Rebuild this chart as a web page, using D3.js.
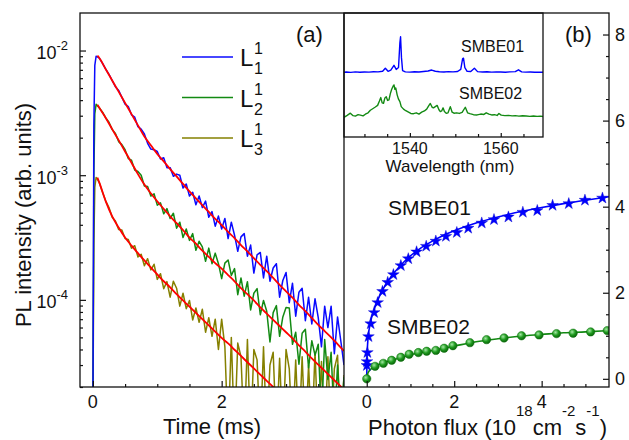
<!DOCTYPE html>
<html>
<head>
<meta charset="utf-8">
<script src="https://cdn.jsdelivr.net/npm/d3@7"></script>
<style>
  html, body { margin: 0; padding: 0; background: #fff; }
  svg { display: block; font-family: "Liberation Sans", Arial, Helvetica, sans-serif; }
</style>
</head>
<body>
<svg id="chart" width="629" height="440"></svg>
<script>
// ---------------- panel (a): PL decay, time in ms ----------------
const timeMs = [0, 0.015, 0.03, 0.05, 0.07,
  0.10, 0.15, 0.20, 0.25, 0.30, 0.35, 0.40, 0.45, 0.50, 0.55,
  0.60, 0.65, 0.70, 0.75, 0.80, 0.85, 0.90, 0.95, 1.00, 1.05,
  1.10, 1.15, 1.20, 1.25, 1.30, 1.35, 1.40, 1.45, 1.50, 1.55,
  1.60, 1.65, 1.70, 1.75, 1.80, 1.85, 1.90, 1.95, 2.00, 2.05,
  2.10, 2.15, 2.20, 2.25, 2.30, 2.35, 2.40, 2.45, 2.50, 2.55,
  2.60, 2.65, 2.70, 2.75, 2.80, 2.85, 2.90, 2.95, 3.00, 3.05,
  3.10, 3.15, 3.20, 3.25, 3.30, 3.35, 3.40, 3.45, 3.50, 3.55,
  3.60, 3.65, 3.70, 3.75, 3.80, 3.85, 3.90];

const plL1 = [1.0e-5, 2.5e-3, 7.6e-3, 9.0e-3, 8.9e-3,
  8.7e-3, 7.9e-3, 7.1e-3, 6.45e-3, 5.75e-3, 5.13e-3, 4.79e-3, 4.22e-3, 3.72e-3, 3.55e-3,
  3.05e-3, 2.92e-3, 2.45e-3, 2.34e-3, 2.14e-3, 1.80e-3, 1.62e-3, 1.60e-3, 1.55e-3, 1.35e-3,
  1.38e-3, 1.15e-3, 1.15e-3, 9.8e-4, 1.02e-3, 1.0e-3, 7.9e-4, 8.5e-4, 6.8e-4, 7.3e-4,
  5.8e-4, 6.8e-4, 5.5e-4, 6.2e-4, 4.6e-4, 5.1e-4, 3.9e-4, 4.7e-4, 3.7e-4, 4.5e-4,
  3.1e-4, 4.2e-4, 3.3e-4, 2.45e-4, 3.2e-4, 3.4e-4, 2.24e-4, 2.75e-4, 1.64e-4, 2.3e-4,
  2.4e-4, 1.5e-4, 2.24e-4, 1.41e-4, 1.8e-4, 1.95e-4, 1.05e-4, 1.43e-4, 1.66e-4, 9.5e-5,
  1.36e-4, 7.4e-5, 1.15e-4, 1.24e-4, 6.8e-5, 1.05e-4, 6.4e-5, 1.02e-4, 7.2e-5, 4.2e-5,
  8.9e-5, 6.0e-5, 8.9e-5, 3.7e-5, 7.3e-5, 4.7e-5, 3.0e-5];

const plL2 = [1.0e-5, 1.0e-3, 3.1e-3, 3.7e-3, 3.6e-3,
  3.47e-3, 3.2e-3, 2.88e-3, 2.66e-3, 2.32e-3, 2.16e-3, 1.86e-3, 1.76e-3, 1.6e-3, 1.36e-3,
  1.32e-3, 1.1e-3, 1.07e-3, 1.0e-3, 8.2e-4, 8.1e-4, 6.8e-4, 7.1e-4, 5.75e-4, 6.0e-4,
  4.9e-4, 5.4e-4, 4.5e-4, 4.95e-4, 3.76e-4, 4.2e-4, 3.16e-4, 3.7e-4, 3.0e-4, 3.4e-4,
  2.5e-4, 2.95e-4, 2.66e-4, 2.04e-4, 2.6e-4, 1.95e-4, 2.37e-4, 1.95e-4, 1.48e-4, 1.97e-4,
  2.09e-4, 1.57e-4, 1.78e-4, 1.1e-4, 1.5e-4, 1.07e-4, 1.4e-4, 8.3e-5, 1.13e-4, 1.23e-4,
  7.6e-5, 9.9e-5, 8.1e-5, 4.6e-5, 7.9e-5, 9.0e-5, 5.1e-5, 7.3e-5, 8.7e-5, 8.6e-5,
  4.4e-5, 5.5e-5, 3.05e-5, 5.4e-5, 5.8e-5, 2.85e-5, 4.7e-5, 3.6e-5, 4.4e-5, 1.1e-5,
  4.8e-5, 2.3e-5, 3.8e-5, 1.0e-5, 3.0e-5, 1.0e-5, 2.4e-5];

const plL3 = [1.0e-5, 2.8e-4, 8.0e-4, 9.6e-4, 9.3e-4,
  8.7e-4, 7.3e-4, 6.2e-4, 5.5e-4, 4.6e-4, 4.3e-4, 3.67e-4, 3.63e-4, 3.1e-4, 3.05e-4,
  2.6e-4, 2.72e-4, 2.21e-4, 2.32e-4, 1.88e-4, 2.14e-4, 1.74e-4, 1.93e-4, 1.46e-4, 1.62e-4,
  1.23e-4, 1.4e-4, 1.05e-4, 1.41e-4, 1.24e-4, 8.9e-5, 1.13e-4, 8.5e-5, 9.9e-5, 6.9e-5,
  8.6e-5, 6.6e-5, 8.4e-5, 5.5e-5, 7.2e-5, 5.1e-5, 7.0e-5, 4.0e-5, 7.0e-5, 4.2e-5,
  8e-6, 5.0e-5, 8e-6, 4.5e-5, 3.5e-5, 8e-6, 4.8e-5, 8e-6, 4.0e-5, 3.3e-5,
  8e-6, 4.2e-5, 8e-6, 3.0e-5, 3.8e-5, 8e-6, 3.4e-5, 8e-6, 4.0e-5, 2.8e-5,
  8e-6, 3.3e-5, 8e-6, 3.5e-5, 8e-6, 3.0e-5, 8e-6, 3.8e-5, 8e-6, 3.2e-5,
  8e-6, 3.5e-5, 8e-6, 2.8e-5, 3.6e-5, 8e-6, 2.5e-5];

// fitted decays (red)
const fitTimeMs = [0.07, 0.1, 0.2, 0.3, 0.4, 0.5, 0.6, 0.7, 0.8, 0.9, 1.0,
  1.1, 1.2, 1.3, 1.4, 1.5, 1.6, 1.7, 1.8, 1.9, 2.0,
  2.1, 2.2, 2.3, 2.4, 2.5, 2.6, 2.7, 2.8, 2.9, 3.0,
  3.1, 3.2, 3.3, 3.4, 3.5, 3.6, 3.7, 3.8, 3.9];
const fitL1 = [9.1e-3, 8.71e-3, 7.08e-3, 5.75e-3, 4.68e-3, 3.80e-3, 3.09e-3, 2.51e-3, 2.04e-3, 1.74e-3, 1.48e-3,
  1.29e-3, 1.12e-3, 9.77e-4, 8.51e-4, 7.41e-4, 6.53e-4, 5.75e-4, 5.07e-4, 4.47e-4, 3.98e-4,
  3.51e-4, 3.13e-4, 2.75e-4, 2.45e-4, 2.16e-4, 1.91e-4, 1.70e-4, 1.50e-4, 1.32e-4, 1.17e-4,
  1.04e-4, 9.12e-5, 8.13e-5, 7.16e-5, 6.31e-5, 5.62e-5, 5.01e-5, 4.42e-5, 3.89e-5];
const fitL2 = [3.67e-3, 3.47e-3, 2.88e-3, 2.34e-3, 1.91e-3, 1.55e-3, 1.26e-3, 1.02e-3, 8.41e-4, 7.16e-4, 6.17e-4,
  5.37e-4, 4.68e-4, 4.12e-4, 3.63e-4, 3.16e-4, 2.82e-4, 2.48e-4, 2.21e-4, 1.97e-4, 1.78e-4,
  1.58e-4, 1.41e-4, 1.24e-4, 1.11e-4, 9.89e-5, 8.71e-5, 7.76e-5, 6.92e-5, 6.17e-5, 5.50e-5,
  4.90e-5, 4.32e-5, 3.85e-5, 3.39e-5, 3.02e-5, 2.69e-5, 2.40e-5, 2.14e-5, 1.91e-5];
const fitL3 = [9.55e-4, 8.71e-4, 6.17e-4, 4.68e-4, 3.80e-4, 3.16e-4, 2.72e-4, 2.37e-4, 2.07e-4, 1.82e-4, 1.60e-4,
  1.41e-4, 1.26e-4, 1.11e-4, 9.89e-5, 8.81e-5, 7.85e-5, 7.00e-5, 6.24e-5, 5.56e-5, 4.95e-5,
  4.47e-5, 3.98e-5, 3.55e-5, 3.16e-5, 2.82e-5, 2.51e-5, 2.24e-5, 2.0e-5, 1.78e-5];

const seriesNames = ["1", "2", "3"];
const decayTicks = [1e-2, 1e-3, 1e-4];
const timeTicks = [0, 2];

// ---------------- inset: emission spectra ----------------
const wlSMBE01 = [1525.5, 1526, 1527, 1528, 1529, 1530, 1531, 1532, 1533, 1534,
  1534.6, 1535.2, 1535.8, 1536.5, 1537.0, 1537.5, 1537.8, 1537.95, 1538.15, 1538.4,
  1539, 1540, 1541, 1542, 1543, 1544, 1544.8, 1545.6, 1546.5, 1547.5,
  1548.5, 1549.5, 1550.5, 1551.2, 1551.6, 1551.8, 1552.1, 1552.6, 1553.4, 1554.2,
  1554.9, 1556, 1557, 1558, 1559, 1560, 1561, 1562, 1563.2, 1563.9,
  1564.6, 1565.5, 1566.5, 1567.5, 1568.5, 1569.3];
const specSMBE01 = [5.22, 5.24, 5.21, 5.25, 5.22, 5.24, 5.23, 5.26, 5.25, 5.30,
  5.55, 5.30, 5.40, 5.78, 5.45, 5.60, 7.6, 8.08, 6.4, 5.35,
  5.25, 5.23, 5.26, 5.24, 5.28, 5.32, 5.40, 5.30, 5.26, 5.24,
  5.27, 5.25, 5.28, 5.45, 6.30, 6.36, 5.60, 5.30, 5.28, 5.55,
  5.27, 5.24, 5.26, 5.23, 5.25, 5.24, 5.22, 5.25, 5.27, 5.42,
  5.25, 5.23, 5.24, 5.22, 5.23, 5.22];

const wlSMBE02 = [1525.5, 1526.2, 1526.9, 1527.5, 1528.0, 1528.6, 1529.1, 1529.7, 1530.2, 1530.8,
  1531.3, 1531.9, 1532.4, 1532.9, 1533.3, 1533.6, 1533.9, 1534.2, 1534.5, 1534.8,
  1535.1, 1535.4, 1535.7, 1536.0, 1536.3, 1536.5, 1536.7, 1536.9, 1537.2, 1537.5,
  1537.8, 1538.1, 1538.6, 1539.1, 1539.7, 1540.2, 1540.8, 1541.4, 1542.0, 1542.6,
  1543.2, 1543.7, 1544.2, 1544.5, 1544.9, 1545.2, 1545.6, 1546.0, 1546.4, 1546.7,
  1547.0, 1547.3, 1547.6, 1548.0, 1548.4, 1548.9, 1549.3, 1549.7, 1550.3, 1550.9,
  1551.5, 1552.2, 1552.7, 1553.2, 1554.0, 1554.8, 1555.6, 1556.3, 1556.8, 1557.4,
  1558.0, 1558.6, 1559.2, 1559.6, 1560.1, 1560.9, 1561.7, 1562.5, 1563.2, 1564.0,
  1564.8, 1565.6, 1566.4, 1567.2, 1568.0, 1568.7, 1569.3];
const specSMBE02 = [1.59, 1.75, 1.92, 1.72, 1.68, 1.80, 1.76, 1.70, 1.84, 1.95,
  2.16, 2.30, 2.42, 2.55, 2.90, 3.18, 2.75, 2.72, 3.15, 3.25,
  2.95, 3.00, 3.50, 3.85, 4.10, 4.20, 3.85, 3.95, 3.40, 3.05,
  2.85, 2.45, 2.25, 2.12, 2.00, 1.90, 1.88, 1.95, 1.85, 2.00,
  2.10, 2.25, 2.55, 2.70, 2.40, 2.35, 2.45, 2.55, 2.20, 2.05,
  2.10, 2.35, 2.05, 1.92, 1.95, 2.45, 2.00, 1.92, 1.95, 1.90,
  1.98, 2.40, 1.95, 1.88, 1.80, 1.78, 1.85, 1.82, 1.95, 1.85,
  1.78, 1.80, 1.74, 1.90, 1.76, 1.72, 1.74, 1.70, 1.72, 1.68,
  1.71, 1.69, 1.66, 1.69, 1.66, 1.68, 1.65];
const wavelengthTicks = [1540, 1560];

// ---------------- panel (b): intensity vs photon flux ----------------
const fluxSMBE01 = [0.003, 0.006, 0.015, 0.04, 0.09, 0.17, 0.25, 0.36, 0.48, 0.61, 0.78, 0.95, 1.14, 1.36,
  1.58, 1.81, 2.06, 2.32, 2.63, 2.91, 3.24, 3.57, 3.90, 4.25, 4.62, 4.99, 5.39];
const intSMBE01 = [0.31, 0.40, 0.61, 0.98, 1.28, 1.54, 1.77, 2.03, 2.24, 2.42, 2.63, 2.79, 2.95, 3.08,
  3.20, 3.31, 3.40, 3.50, 3.62, 3.70, 3.76, 3.87, 3.91, 4.03, 4.07, 4.15, 4.20];
const fluxSMBE02 = [0, 0.19, 0.38, 0.57, 0.78, 0.97, 1.18, 1.37, 1.58, 1.77, 1.97, 2.36, 2.74, 3.14,
  3.54, 3.94, 4.34, 4.72, 5.12, 5.50];
const intSMBE02 = [0, 0.29, 0.36, 0.43, 0.50, 0.57, 0.61, 0.64, 0.66, 0.71, 0.77, 0.84, 0.91, 0.95,
  1.00, 1.02, 1.05, 1.06, 1.09, 1.12];

const fitFlux01 = [0, 0.005, 0.015, 0.03, 0.06, 0.1, 0.15, 0.2, 0.3, 0.4, 0.5, 0.6, 0.75, 1.0, 1.25,
  1.5, 1.75, 2.0, 2.5, 3.0, 3.5, 4.0, 4.5, 5.0, 5.54];
const fitInt01 = [0, 0.45, 0.72, 0.95, 1.18, 1.38, 1.55, 1.70, 1.94, 2.13, 2.29, 2.43, 2.61, 2.86, 3.05,
  3.20, 3.33, 3.44, 3.62, 3.76, 3.88, 3.98, 4.07, 4.15, 4.23];
const fitFlux02 = [0, 0.03, 0.08, 0.15, 0.25, 0.4, 0.6, 0.8, 1.0, 1.25, 1.5, 1.75, 2.0, 2.5, 3.0,
  3.5, 4.0, 4.5, 5.0, 5.54];
const fitInt02 = [0, 0.14, 0.21, 0.27, 0.32, 0.38, 0.44, 0.50, 0.56, 0.61, 0.66, 0.71, 0.76, 0.86, 0.93,
  0.99, 1.03, 1.07, 1.09, 1.12];

const fluxTicks = [0, 2, 4];
const intensityTicks = [0, 2, 4, 6, 8];

// ---------------- drawing ----------------
const colors = { L1: "#0a0aff", L2: "#138a13", L3: "#858000", fit: "#ff0000" };
const svg = d3.select("#chart");
const F = { left: 80, right: 609, top: 13, bottom: 387, split: 344 };
const IN = { left: 344, right: 543, top: 13, bottom: 137 };

const xT = d3.scaleLinear().domain([-0.2, 3.9]).range([F.left, F.split]);
const yPL = d3.scaleLog().domain([2e-5, 2e-2]).range([F.bottom, F.top]);
const xF = d3.scaleLinear().domain([-0.52, 5.54]).range([F.split, F.right]);
const yI = d3.scaleLinear().domain([-0.19, 8.5]).range([F.bottom, F.top]);
const xW = d3.scaleLinear().domain([1525.5, 1569.3]).range([IN.left, IN.right]);
const yS = d3.scaleLinear().domain([0, 10]).range([IN.bottom, IN.top]);

const defs = svg.append("defs");
defs.append("clipPath").attr("id", "clipA").append("rect")
  .attr("x", F.left).attr("y", F.top).attr("width", F.split - F.left).attr("height", F.bottom - F.top);
defs.append("clipPath").attr("id", "clipB").append("rect")
  .attr("x", F.split).attr("y", F.top).attr("width", F.right - F.split).attr("height", F.bottom - F.top);
defs.append("clipPath").attr("id", "clipIn").append("rect")
  .attr("x", IN.left).attr("y", IN.top).attr("width", IN.right - IN.left).attr("height", IN.bottom - IN.top);
const grad = defs.append("radialGradient").attr("id", "ball").attr("cx", "38%").attr("cy", "35%").attr("r", "65%");
grad.append("stop").attr("offset", "0%").attr("stop-color", "#a6e8a6");
grad.append("stop").attr("offset", "55%").attr("stop-color", "#1f9b1f");
grad.append("stop").attr("offset", "100%").attr("stop-color", "#0b660b");

const font = "Liberation Sans, Arial, sans-serif";

// ---- panel (a) curves
const gA = svg.append("g").attr("clip-path", "url(#clipA)");
const decayLine = d3.line().x(d => xT(d[0])).y(d => yPL(d[1]));
const pair = (xs, ys) => ys.map((v, i) => [xs[i], v]);
[[plL3, colors.L3], [plL2, colors.L2], [plL1, colors.L1]].forEach(([vals, c]) => {
  gA.append("path").datum(pair(timeMs, vals)).attr("d", decayLine)
    .attr("fill", "none").attr("stroke", c).attr("stroke-width", 1.5).attr("stroke-linejoin", "round");
});
const fitLine = d3.line().x(d => xT(d[0])).y(d => yPL(d[1])).curve(d3.curveMonotoneX);
[fitL1, fitL2, fitL3].forEach(vals => {
  gA.append("path").datum(pair(fitTimeMs, vals)).attr("d", fitLine)
    .attr("fill", "none").attr("stroke", colors.fit).attr("stroke-width", 1.8);
});

// ---- panel (b) curves
const gB = svg.append("g").attr("clip-path", "url(#clipB)");
const fluxLine = d3.line().x(d => xF(d[0])).y(d => yI(d[1])).curve(d3.curveMonotoneX);
gB.append("path").datum(pair(fitFlux01, fitInt01)).attr("d", fluxLine)
  .attr("fill", "none").attr("stroke", "#0000ff").attr("stroke-width", 1.6);
gB.append("path").datum(pair(fitFlux02, fitInt02)).attr("d", fluxLine)
  .attr("fill", "none").attr("stroke", "#128812").attr("stroke-width", 1.6);
const star = d3.symbol().type(d3.symbolStar).size(42);
gB.selectAll("path.star").data(pair(fluxSMBE01, intSMBE01)).join("path").attr("class", "star")
  .attr("d", star).attr("transform", d => `translate(${xF(d[0])},${yI(d[1])})`)
  .attr("fill", "#0000ff").attr("stroke", "#0000cc").attr("stroke-width", 0.4);
gB.selectAll("circle.ball").data(pair(fluxSMBE02, intSMBE02)).join("circle").attr("class", "ball")
  .attr("cx", d => xF(d[0])).attr("cy", d => yI(d[1])).attr("r", 4.2)
  .attr("fill", "url(#ball)").attr("stroke", "#0d700d").attr("stroke-width", 0.5);

// ---- inset
svg.append("rect").attr("x", IN.left).attr("y", IN.top)
  .attr("width", IN.right - IN.left).attr("height", IN.bottom - IN.top).attr("fill", "#fff");
const gIn = svg.append("g").attr("clip-path", "url(#clipIn)");
const specLine = d3.line().x(d => xW(d[0])).y(d => yS(d[1]));
gIn.append("path").datum(pair(wlSMBE01, specSMBE01)).attr("d", specLine)
  .attr("fill", "none").attr("stroke", "#0000ff").attr("stroke-width", 1.4).attr("stroke-linejoin", "round");
gIn.append("path").datum(pair(wlSMBE02, specSMBE02)).attr("d", specLine)
  .attr("fill", "none").attr("stroke", "#138a13").attr("stroke-width", 1.4).attr("stroke-linejoin", "round");
svg.append("rect").attr("x", IN.left).attr("y", IN.top)
  .attr("width", IN.right - IN.left).attr("height", IN.bottom - IN.top)
  .attr("fill", "none").attr("stroke", "#111").attr("stroke-width", 1.3);

const axisStyle = g => {
  g.select(".domain").remove();
  g.selectAll(".tick line").attr("stroke", "#111").attr("stroke-width", 1.2);
  g.selectAll("text").remove();
};

// inset ticks
svg.append("g").attr("transform", `translate(0,${IN.bottom})`)
  .call(d3.axisBottom(xW).tickValues([1530, 1535, 1545, 1550, 1555, 1565]).tickSize(-3)).call(axisStyle);
svg.append("g").attr("transform", `translate(0,${IN.bottom})`)
  .call(d3.axisBottom(xW).tickValues([1540, 1560]).tickSize(-4)).call(axisStyle);
svg.append("g").selectAll("text").data(wavelengthTicks).join("text")
  .attr("x", d => xW(d)).attr("y", 154).attr("text-anchor", "middle")
  .attr("font-size", 16).attr("fill", "#111").text(d => d);
svg.append("text").attr("x", 450).attr("y", 172).attr("text-anchor", "middle")
  .attr("font-size", 17).attr("fill", "#111").text("Wavelength (nm)");
svg.append("text").attr("x", 461).attr("y", 52).attr("font-size", 16).attr("fill", "#111").text("SMBE01");
svg.append("text").attr("x", 459).attr("y", 99).attr("font-size", 16).attr("fill", "#111").text("SMBE02");

// ---- frame and divider
svg.append("rect").attr("x", F.left).attr("y", F.top).attr("width", F.right - F.left)
  .attr("height", F.bottom - F.top).attr("fill", "none").attr("stroke", "#111").attr("stroke-width", 1.3);
svg.append("line").attr("x1", F.split).attr("x2", F.split).attr("y1", F.top).attr("y2", F.bottom)
  .attr("stroke", "#111").attr("stroke-width", 1.3);

// ---- panel (a) axes
const logMinor = [];
[1e-5, 1e-4, 1e-3, 1e-2].forEach(dec => { for (let m = 2; m <= 9; m++) logMinor.push(m * dec); });
svg.append("g").attr("transform", `translate(${F.left},0)`)
  .call(d3.axisLeft(yPL).tickValues(logMinor.filter(v => v >= 2e-5 && v < 2e-2)).tickSize(-3)).call(axisStyle);
svg.append("g").attr("transform", `translate(${F.left},0)`)
  .call(d3.axisLeft(yPL).tickValues(decayTicks).tickSize(-6)).call(axisStyle);
const yLab = svg.append("g").attr("fill", "#111").attr("font-size", 18);
decayTicks.forEach(v => {
  const t = yLab.append("text").attr("x", 68).attr("y", yPL(v) + 8.5).attr("text-anchor", "end");
  t.append("tspan").text("10");
  t.append("tspan").attr("dy", -9).attr("font-size", 13).text(String(Math.round(Math.log10(v))));
});
svg.append("g").attr("transform", `translate(0,${F.bottom})`)
  .call(d3.axisBottom(xT).tickValues([0.5, 1, 1.5, 2.5, 3, 3.5]).tickSize(-3)).call(axisStyle);
svg.append("g").attr("transform", `translate(0,${F.bottom})`)
  .call(d3.axisBottom(xT).tickValues(timeTicks).tickSize(-6)).call(axisStyle);
svg.append("g").selectAll("text").data(timeTicks).join("text")
  .attr("x", d => xT(d)).attr("y", 408).attr("text-anchor", "middle")
  .attr("font-size", 18).attr("fill", "#111").text(d => d);
svg.append("text").attr("transform", "translate(31,215) rotate(-90)").attr("text-anchor", "middle")
  .attr("font-size", 22).attr("fill", "#111").text("PL intensity (arb. units)");
svg.append("text").attr("x", 212).attr("y", 434).attr("text-anchor", "middle")
  .attr("font-size", 22).attr("fill", "#111").text("Time (ms)");

// ---- panel (b) axes
svg.append("g").attr("transform", `translate(0,${F.bottom})`)
  .call(d3.axisBottom(xF).tickValues([0.5, 1, 1.5, 2.5, 3, 3.5, 4.5, 5]).tickSize(-3)).call(axisStyle);
svg.append("g").attr("transform", `translate(0,${F.bottom})`)
  .call(d3.axisBottom(xF).tickValues(fluxTicks).tickSize(-6)).call(axisStyle);
svg.append("g").selectAll("text").data(fluxTicks).join("text")
  .attr("x", d => xF(d)).attr("y", 408).attr("text-anchor", "middle")
  .attr("font-size", 18).attr("fill", "#111").text(d => d);
const minorI = d3.range(0.5, 8.5, 0.5).filter(v => v % 2 !== 0);
svg.append("g").attr("transform", `translate(${F.right},0)`)
  .call(d3.axisRight(yI).tickValues(minorI).tickSize(-3)).call(axisStyle);
svg.append("g").attr("transform", `translate(${F.right},0)`)
  .call(d3.axisRight(yI).tickValues(intensityTicks).tickSize(-6)).call(axisStyle);
svg.append("g").selectAll("text").data(intensityTicks).join("text")
  .attr("x", 615).attr("y", d => yI(d) + 6.5)
  .attr("font-size", 18).attr("fill", "#111").text(d => d);
const fluxTitle = svg.append("text").attr("x", 368).attr("y", 435)
  .attr("font-size", 22).attr("fill", "#111");
fluxTitle.append("tspan").text("Photon flux (10");
fluxTitle.append("tspan").attr("dy", -19).attr("font-size", 15).text("18");
fluxTitle.append("tspan").attr("dy", 19).text("cm");
fluxTitle.append("tspan").attr("dy", -19).attr("font-size", 15).text("-2");
fluxTitle.append("tspan").attr("dy", 19).text("s");
fluxTitle.append("tspan").attr("dy", -19).attr("font-size", 15).text("-1");
fluxTitle.append("tspan").attr("dy", 19).text(")");

svg.append("text").attr("x", 388).attr("y", 215).attr("font-size", 21).attr("fill", "#111").text("SMBE01");
svg.append("text").attr("x", 387).attr("y", 334).attr("font-size", 21).attr("fill", "#111").text("SMBE02");

// ---- panel labels
svg.append("text").attr("x", 296).attr("y", 42).attr("font-size", 22).attr("fill", "#111").text("(a)");
svg.append("text").attr("x", 565).attr("y", 42).attr("font-size", 22).attr("fill", "#111").text("(b)");

// ---- legend
const legendColors = [colors.L1, colors.L2, colors.L3];
seriesNames.forEach((n, i) => {
  const y0 = 57 + i * 40.5;
  svg.append("line").attr("x1", 182).attr("x2", 233).attr("y1", y0).attr("y2", y0)
    .attr("stroke", legendColors[i]).attr("stroke-width", 1.6);
  svg.append("text").attr("x", 240).attr("y", y0 + 9).attr("font-size", 24).attr("fill", "#111").text("L");
  svg.append("text").attr("x", 254).attr("y", y0 - 3).attr("font-size", 16).attr("fill", "#111").text("1");
  svg.append("text").attr("x", 254).attr("y", y0 + 17).attr("font-size", 16).attr("fill", "#111").text(n);
});
</script>
</body>
</html>
